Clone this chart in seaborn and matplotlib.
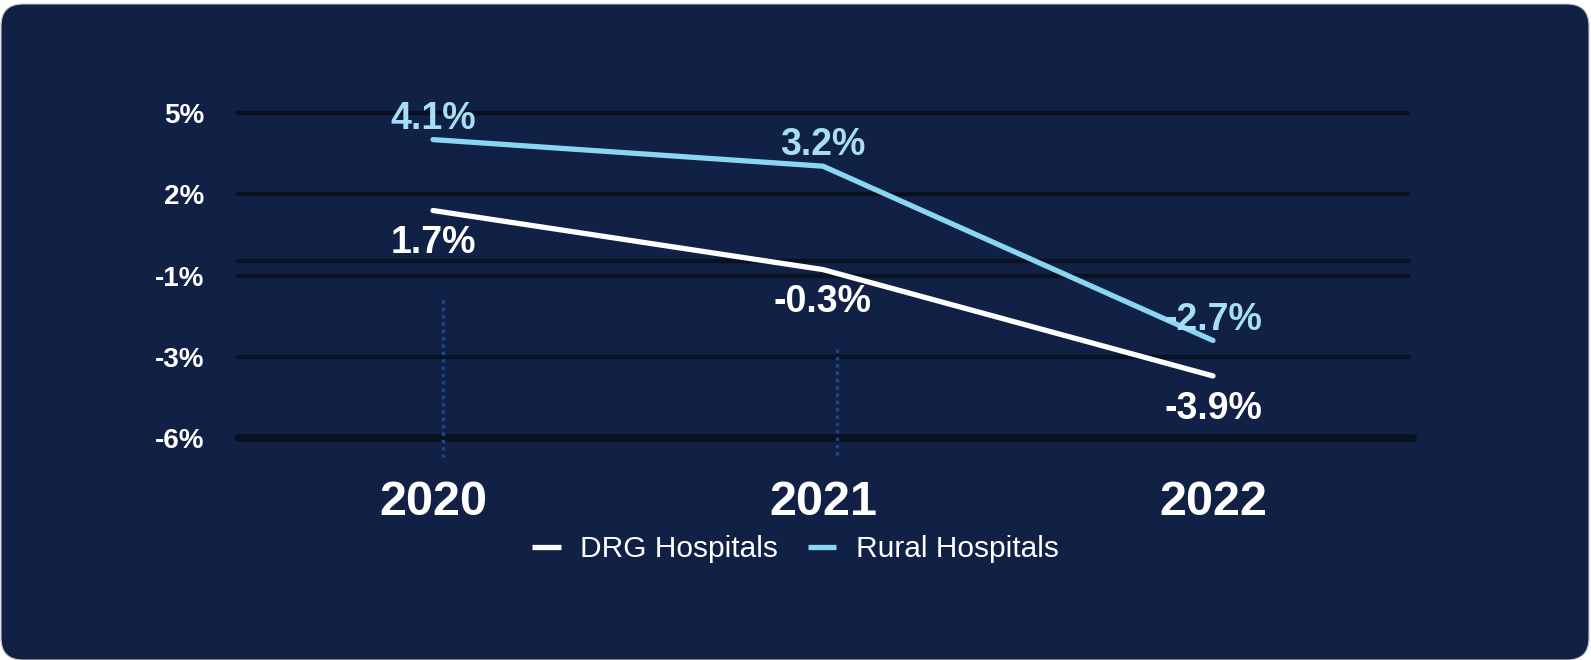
import numpy as np
import pandas as pd
import seaborn as sns
import matplotlib.pyplot as plt
from matplotlib.patches import FancyBboxPatch

years = ["2020", "2021", "2022"]
drg = [1.7, -0.3, -3.9]
rural = [4.1, 3.2, -2.7]
series = ["DRG Hospitals", "Rural Hospitals"]
y_ticks = [-6, -3.25, -0.5, 2.25, 5]
y_tick_labels = ["-6%", "-3%", "-1%", "2%", "5%"]

card = "#112045"
grid_col = "#08111f"
line_cols = {"DRG Hospitals": "#ffffff", "Rural Hospitals": "#89d6f0"}
text_cols = {"DRG Hospitals": "#ffffff", "Rural Hospitals": "#a6dff5"}

df = pd.DataFrame({
    "year": years * 2,
    "value": drg + rural,
    "series": [series[0]] * 3 + [series[1]] * 3,
})

sns.set_style("dark")
plt.rcParams["font.family"] = ["Liberation Sans", "DejaVu Sans"]

fig = plt.figure(figsize=(15.91, 6.60), dpi=100, facecolor="white")
# rounded dark card behind everything
fig.patches.append(FancyBboxPatch((1, 0), 1588, 656, boxstyle="round,pad=0,rounding_size=22",
                                  transform=None, facecolor=card, edgecolor="#c9c9c9",
                                  linewidth=0.8, zorder=-10))

ax = fig.add_axes([238 / 1591, 1 - 438 / 660, (1408 - 238) / 1591, (438 - 113) / 660])
ax.set_facecolor("none")

sns.lineplot(data=df, x="year", y="value", hue="series", palette=line_cols,
             linewidth=3.8, ax=ax, zorder=5, solid_capstyle="round")

ax.set_xlim(-0.5, 2.5)
ax.set_ylim(-6, 5)
ax.grid(False)
for s in ax.spines.values():
    s.set_visible(False)

# horizontal rules
for t in y_ticks[1:]:
    ax.axhline(t, color=grid_col, lw=3.2, clip_on=False, zorder=1)
ax.axhline(0, color=grid_col, lw=3.2, clip_on=False, zorder=1)
ax.axhline(y_ticks[0], color=grid_col, lw=5.5, xmax=1.004, clip_on=False, zorder=1)

# faint dotted markers
for i, top in [(0, -1.33), (1, -3.0)]:
    ax.plot([i + 0.026 + 0.01 * i] * 2, [top, -6.65], color="#1b4887", lw=2.4,
            linestyle=(0, (1, 1.2)), clip_on=False, zorder=2)

ax.set_yticks(y_ticks)
ax.set_yticklabels(y_tick_labels)
ax.tick_params(axis="y", length=0, pad=24, labelsize=20, labelcolor="white")
ax.tick_params(axis="x", length=0, pad=30, labelsize=35, labelcolor="white")
for lab in ax.get_yticklabels() + ax.get_xticklabels():
    lab.set_fontweight("bold")
ax.set_xlabel("")
ax.set_ylabel("")

# value labels
for i, v in enumerate(rural):
    ax.annotate(f"{v}%", (i, v), xytext=(0, 15), textcoords="offset points",
                ha="center", va="center", fontsize=27, fontweight="bold",
                color=text_cols["Rural Hospitals"], zorder=6)
for i, v in enumerate(drg):
    ax.annotate(f"{v}%", (i, v), xytext=(0, -23.5), textcoords="offset points",
                ha="center", va="center", fontsize=27, fontweight="bold",
                color=text_cols["DRG Hospitals"], zorder=6)

handles, labels = ax.get_legend_handles_labels()
ax.get_legend().remove()
leg = fig.legend(handles, labels, loc="center", bbox_to_anchor=(0.5, 1 - 549 / 660),
                 ncol=2, frameon=False, fontsize=21.5, handlelength=0.95,
                 handletextpad=0.65, columnspacing=1.0)
for t in leg.get_texts():
    t.set_color("white")
for h in leg.get_lines():
    h.set_solid_capstyle("butt")

fig.savefig("out.png", dpi=100, facecolor="white")
